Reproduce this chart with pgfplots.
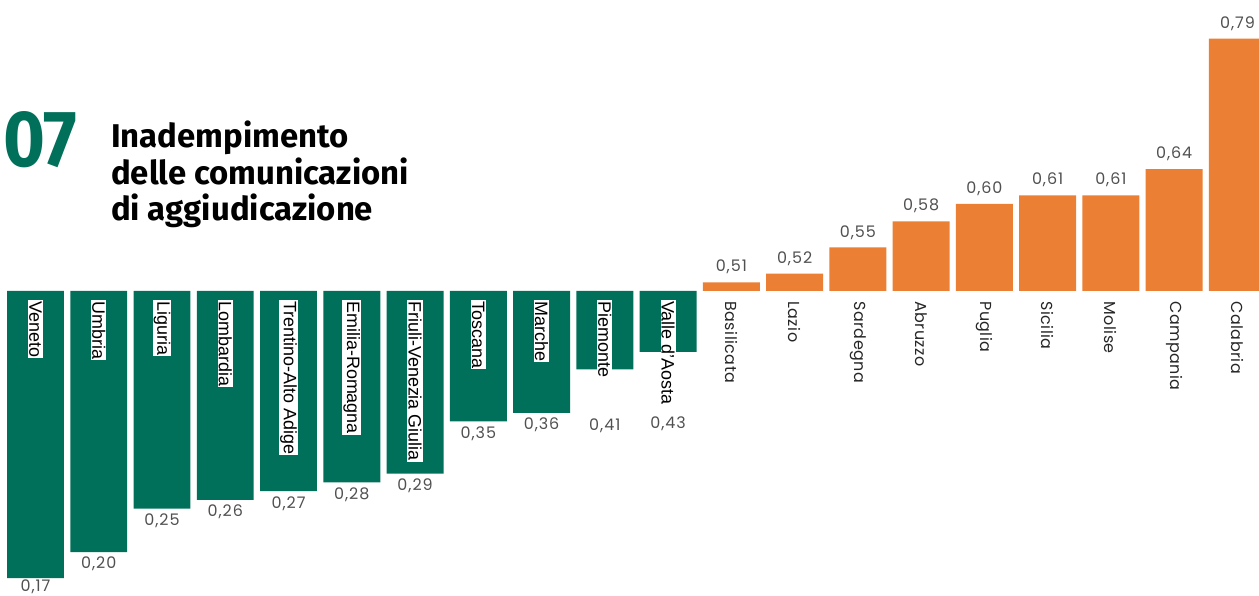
\documentclass[border=0pt]{standalone}
\usepackage{fontspec}
\setmainfont{Liberation Sans}
\newfontfamily\valfont{Poppins}[LetterSpace=6]
\newfontfamily\onamefont{Poppins}[LetterSpace=3]
\newfontfamily\titlefont{Fira Sans}
\usepackage{pgfplots}
\usepackage{pgfplotstable}
\pgfplotsset{compat=1.18}
\definecolor{verde}{HTML}{00705A}
\definecolor{arancio}{HTML}{EB7F33}
\definecolor{valgray}{HTML}{505050}

\pgfplotstableread{
i v off
0 0.17 -4
1 0.20 0
2 0.25 0
3 0.26 0
4 0.27 0
5 0.28 0
6 0.29 0
7 0.35 0
8 0.36 0
9 0.41 44
10 0.43 60
}\greentab

\pgfplotstableread{
i v
11 0.51
12 0.52
13 0.55
14 0.58
15 0.60
16 0.61
17 0.61
18 0.64
19 0.79
}\orangetab

\begin{document}
\begin{tikzpicture}
\begin{axis}[
  at={(0,0)}, anchor=south west,
  scale only axis, width=1259bp, height=596bp,
  xmin=-0.561, xmax=19.341,
  ymin=-0.35057, ymax=0.33448,
  axis lines=none,
  clip=true,
]
% green bars (below 0.5)
\addplot[ybar, bar width=0.9, fill=verde, draw=none,
  point meta=explicit,
  visualization depends on={\thisrow{off} \as \off},
  nodes near coords={\pgfmathprintnumber[fixed, fixed zerofill, precision=2, use comma]{\pgfplotspointmeta}},
  every node near coord/.append style={anchor=north, inner sep=0pt, yshift=-5bp-\off bp,
     font=\valfont\fontsize{16}{16}\selectfont, text=valgray, /pgf/number format/assume math mode=true},
] table[x=i, y expr=\thisrow{v}-0.5, meta=v] {\greentab};
% orange bars (above 0.5)
\addplot[ybar, bar width=0.9, fill=arancio, draw=none,
  point meta=explicit,
  nodes near coords={\pgfmathprintnumber[fixed, fixed zerofill, precision=2, use comma]{\pgfplotspointmeta}},
  every node near coord/.append style={anchor=south, inner sep=0pt, yshift=8bp,
     font=\valfont\fontsize{16}{16}\selectfont, text=valgray, /pgf/number format/assume math mode=true},
] table[x=i, y expr=\thisrow{v}-0.5, meta=v] {\orangetab};

% region names
\tikzset{gname/.style={rotate=-90, anchor=west, fill=white, inner sep=1bp, text=black, font=\fontsize{18}{18}\selectfont},
         oname/.style={rotate=-90, anchor=west, inner sep=1bp, text=black!85, font=\onamefont\fontsize{16}{16}\selectfont}}
\node[gname] at (axis cs:0,-0.0105) {Veneto};
\node[gname] at (axis cs:1,-0.0105) {Umbria};
\node[gname] at (axis cs:2,-0.0105) {Liguria};
\node[gname] at (axis cs:3,-0.0105) {Lombardia};
\node[gname] at (axis cs:4,-0.0105) {Trentino-Alto Adige};
\node[gname] at (axis cs:5,-0.0105) {Emilia-Romagna};
\node[gname] at (axis cs:6,-0.0105) {Friuli-Venezia Giulia};
\node[gname] at (axis cs:7,-0.0105) {Toscana};
\node[gname] at (axis cs:8,-0.0105) {Marche};
\node[gname] at (axis cs:9,-0.0105) {Piemonte};
\node[gname] at (axis cs:10,-0.0105) {Valle d'Aosta};
\node[oname] at (axis cs:11,-0.0105) {Basilicata};
\node[oname] at (axis cs:12,-0.0105) {Lazio};
\node[oname] at (axis cs:13,-0.0105) {Sardegna};
\node[oname] at (axis cs:14,-0.0105) {Abruzzo};
\node[oname] at (axis cs:15,-0.0105) {Puglia};
\node[oname] at (axis cs:16,-0.0105) {Sicilia};
\node[oname] at (axis cs:17,-0.0105) {Molise};
\node[oname] at (axis cs:18,-0.0105) {Campania};
\node[oname] at (axis cs:19,-0.0105) {Calabria};
\end{axis}
% title
\node[anchor=base west, inner sep=0pt, text=verde, font=\titlefont\bfseries\fontsize{80}{80}\selectfont]
  at (3bp,429bp) {\scalebox{0.9}[1]{07}};
\begin{scope}[every node/.style={anchor=base west, inner sep=0pt, text=black, font=\titlefont\bfseries\fontsize{33}{33}\selectfont}]
\node at (111bp,448bp) {Inadempimento};
\node at (111bp,411bp) {delle comunicazioni};
\node at (111bp,375bp) {di aggiudicazione};
\end{scope}
\pgfresetboundingbox
\path (0,0) rectangle (1259bp,596bp);
\end{tikzpicture}
\end{document}
